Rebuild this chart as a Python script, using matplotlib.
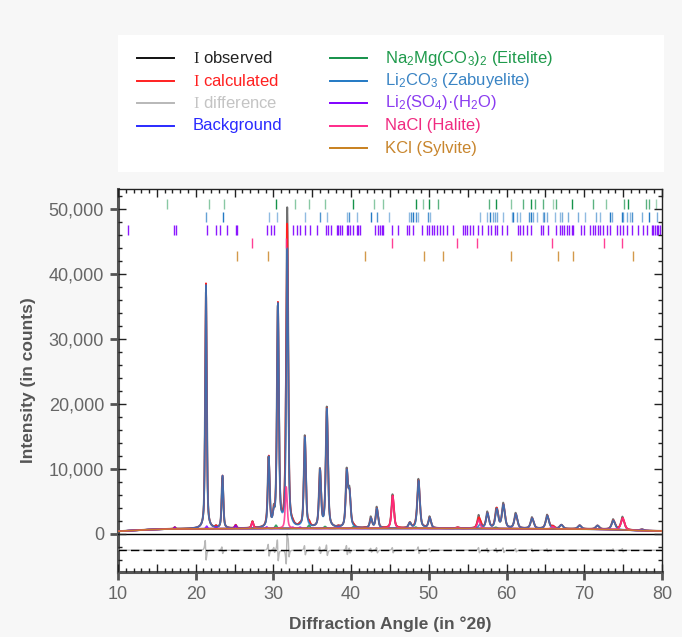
import numpy as np
import matplotlib
matplotlib.use('Agg')
import matplotlib.pyplot as plt
from matplotlib.ticker import MultipleLocator, FuncFormatter

plt.rcParams['font.family'] = ['Liberation Sans', 'DejaVu Sans']
plt.rcParams['mathtext.fontset'] = 'custom'
plt.rcParams['mathtext.rm'] = 'Liberation Sans'
plt.rcParams['mathtext.it'] = 'Liberation Sans:italic'
plt.rcParams['mathtext.bf'] = 'Liberation Sans:bold'
plt.rcParams['mathtext.sf'] = 'Liberation Sans'
plt.rcParams['mathtext.tt'] = 'Liberation Serif'

# ---------------- data ----------------
two_theta_min, two_theta_max = 10.0, 80.0

bg_x = [10, 13, 16, 20, 30, 40, 50, 60, 70, 74, 77, 80]
bg_y = [420, 620, 760, 800, 850, 860, 860, 830, 760, 680, 520, 460]

zab_pos = [21.32, 23.45, 29.40, 30.05, 30.58, 31.78, 34.05, 36.00, 36.88, 39.45, 39.80,
           42.56, 43.32, 47.55, 48.68, 50.12, 56.60, 57.55, 58.75, 59.60, 61.20, 63.30,
           65.25, 67.05, 69.40, 71.70, 73.75, 77.40]
zab_int = [37500, 8100, 10700, 1500, 34200, 42800, 13900, 8700, 18200, 8400, 5000,
           1500, 3000, 800, 7300, 1600, 600, 2300, 2900, 3600, 2200, 1600,
           2000, 600, 550, 550, 1400, 200]

nacl_pos = [27.30, 31.65, 45.35, 53.70, 56.40, 65.95, 74.95]
nacl_int = [1000, 6400, 5000, 150, 1300, 350, 1800]

eit_pos = [30.33, 34.58, 36.64, 40.29, 48.31, 58.61]
eit_int = [500, 500, 300, 250, 200, 200]

lso_pos = [17.30, 21.41, 22.61, 25.14, 29.13, 32.48, 33.42, 38.36]
lso_int = [250, 400, 250, 500, 250, 200, 200, 150]

kcl_pos = [29.26, 41.79, 49.43]
kcl_int = [80, 60, 60]

# misfit (observed - calculated) features
resid_pos = [21.28, 23.42, 29.38, 30.10, 30.56, 31.70, 31.95, 34.05, 36.00, 36.88, 39.45, 39.80,
             42.56, 43.32, 45.35, 48.68, 50.12, 56.45, 57.55, 58.70, 59.60, 61.20, 63.30, 65.25,
             73.75, 74.95]
resid_amp = [1500, 500, 900, 400, 1600, -2200, 1200, 700, 500, 800, 700, 400,
             300, 400, 400, 500, 250, 400, 300, 300, 350, 250, 200, 200,
             200, 250]
diff_offset = -2500

# reflection tick marks (2theta) and their shading
eit_ticks = [16.26, 21.71, 23.64, 30.33, 32.78, 34.58, 36.64, 40.29, 42.95, 44.15, 48.31, 49.30,
             50.03, 51.23, 57.75, 58.61, 60.54, 62.08, 63.11, 63.63, 64.66, 66.03, 66.37, 68.39,
             71.18, 72.81, 75.16, 75.59, 77.91, 78.38, 79.24]
eit_alpha = [0.5, 0.5, 0.5, 1.0, 0.5, 0.5, 0.5, 1.0, 0.5, 0.5, 1.0, 0.5,
             1.0, 0.7, 0.7, 1.0, 0.5, 0.7, 1.0, 0.7, 0.7, 0.4, 0.7, 1.0,
             0.7, 0.5, 0.7, 1.0, 0.7, 0.7, 0.4]
zab_ticks = [21.33, 23.47, 29.39, 30.42, 34.02, 36.00, 36.86, 39.43, 39.77, 40.72, 42.56, 43.29,
             44.86, 47.45, 47.67, 48.01, 48.31, 48.65, 49.94, 50.15, 56.59, 57.45, 57.88, 58.22,
             58.48, 58.73, 59.51, 60.66, 60.88, 61.31, 61.74, 62.94, 63.11, 63.45, 63.88, 64.66,
             64.83, 65.17, 66.24, 66.89, 67.10, 67.96, 69.24, 70.10, 71.52, 72.03, 73.32, 73.54,
             74.82, 75.04, 75.47, 75.89, 76.19, 77.48, 78.34, 79.33]
zab_alpha = [0.7, 1.0, 0.5, 0.5, 0.5, 0.8, 0.5, 0.5, 0.8, 0.5, 1.0, 0.8,
             0.5, 0.5, 0.8, 1.0, 0.8, 0.5, 0.8, 0.5, 0.5, 0.5, 1.0, 0.6,
             0.6, 0.6, 0.5, 0.5, 1.0, 0.6, 0.5, 0.8, 1.0, 0.6, 0.5, 0.5,
             0.8, 0.6, 0.5, 0.5, 0.6, 0.6, 0.6, 0.5, 0.6, 0.5, 1.0, 0.6,
             1.0, 0.6, 0.6, 0.5, 0.8, 0.6, 1.0, 0.6]
lso_ticks = [11.24, 17.21, 17.46, 21.41, 22.61, 23.13, 24.07, 25.14, 25.36, 29.13, 29.65, 30.12,
             32.48, 32.99, 33.42, 34.07, 34.71, 35.57, 36.77, 37.07, 37.41, 38.14, 38.36, 38.57,
             38.79, 39.43, 39.64, 39.86, 40.20, 40.72, 40.93, 41.15, 43.08, 43.42, 43.72, 43.93,
             44.15, 45.22, 46.08, 47.15, 47.50, 48.01, 49.17, 49.73, 50.03, 50.37, 50.71, 51.01,
             51.44, 51.87, 52.30, 53.16, 54.36, 54.66, 54.96, 55.30, 55.73, 56.38, 56.80, 57.66,
             58.01, 58.52, 58.82, 59.38, 60.02, 61.48, 61.74, 62.08, 62.60, 63.11, 64.40, 64.74,
             65.38, 66.33, 66.89, 67.10, 67.40, 67.74, 68.09, 68.39, 68.60, 69.59, 69.97, 70.75,
             71.09, 71.39, 71.82, 72.03, 72.46, 72.89, 73.32, 74.18, 74.61, 75.04, 75.47, 76.20,
             76.97, 77.61, 78.04, 78.68, 78.90, 79.11, 79.33, 79.54, 79.76]
nacl_ticks = [27.29, 31.65, 45.22, 53.67, 56.16, 65.90, 72.59, 74.82]
kcl_ticks = [25.32, 29.26, 41.79, 49.43, 51.87, 60.54, 66.67, 68.60, 76.32]

tick_rows = [50800, 48800, 46800, 44800, 42800]

x_major_ticks = [10, 20, 30, 40, 50, 60, 70, 80]
y_major_ticks = [0, 10000, 20000, 30000, 40000, 50000]

# ---------------- styles ----------------
C_OBS = '#111111'
C_CALC = '#ff2020'
C_DIFF = '#b8b8b8'
C_BG = '#2a2aff'
C_EIT = '#15924a'
C_ZAB = '#2379c4'
C_LSO = '#8000ff'
C_NACL = '#ff2a8a'
C_KCL = '#c8801e'

x = np.arange(two_theta_min, two_theta_max + 0.005, 0.01)


def profile(xx, pos, amp):
    out = np.zeros_like(xx)
    for p, h in zip(pos, amp):
        fwhm = 0.12 + 0.0055 * p
        u = (xx - p) / (fwhm / 2)
        out += h * (0.55 / (1 + u ** 2) + 0.45 * np.exp(-np.log(2) * u ** 2))
    return out


def misfit(xx, pos, amp):
    out = np.zeros_like(xx)
    for p, a in zip(pos, amp):
        u = (xx - p) / 0.1
        out += a * (-2 * u / (1 + u ** 2) ** 2) / 0.6495
    return out


bg = np.interp(x, bg_x, bg_y)
eit = bg + profile(x, eit_pos, eit_int)
zab = bg + profile(x, zab_pos, zab_int)
lso = bg + profile(x, lso_pos, lso_int)
nacl = bg + profile(x, nacl_pos, nacl_int)
kcl = bg + profile(x, kcl_pos, kcl_int)
calc = bg + (eit - bg) + (zab - bg) + (lso - bg) + (nacl - bg) + (kcl - bg)
obs = calc + misfit(x, resid_pos, resid_amp)
diff = obs - calc + diff_offset

W, H = 682, 637
fig = plt.figure(figsize=(W / 100, H / 100), dpi=100, facecolor='#f7f7f7')

ax_rect = [118 / W, (H - 572) / H, (662 - 118) / W, (572 - 189) / H]
ax = fig.add_axes(ax_rect, facecolor='white')
ax.set_xlim(two_theta_min, two_theta_max)
ax.set_ylim(-5850, 53100)

ax.plot(x, obs, color=C_OBS, lw=1.4, alpha=0.6, zorder=2)
ax.plot(x, calc, color=C_CALC, lw=1.2, zorder=3)
ax.plot(x, diff, color=C_DIFF, lw=1.0, zorder=3)
ax.plot(x, bg, color=C_BG, lw=1.2, zorder=3)
for yy, c in [(eit, C_EIT), (zab, C_ZAB), (lso, C_LSO), (nacl, C_NACL), (kcl, C_KCL)]:
    ax.plot(x, yy, color=c, lw=1.2, alpha=0.85, zorder=4)

ax.axhline(0, color='black', lw=1.0, zorder=5)
ax.axhline(diff_offset, color='black', lw=1.0, ls=(0, (6, 3)), zorder=5)

half = 750
ax.vlines(eit_ticks, tick_rows[0] - half, tick_rows[0] + half, colors=C_EIT, lw=1.0, zorder=6)
ax.collections[-1].set_alpha(eit_alpha)
ax.vlines(zab_ticks, tick_rows[1] - half, tick_rows[1] + half, colors=C_ZAB, lw=1.0, zorder=6)
ax.collections[-1].set_alpha(zab_alpha)
ax.vlines(lso_ticks, tick_rows[2] - half, tick_rows[2] + half, colors=C_LSO, lw=1.0, alpha=0.9, zorder=6)
ax.vlines(nacl_ticks, tick_rows[3] - half, tick_rows[3] + half, colors=C_NACL, lw=1.0, alpha=0.9, zorder=6)
ax.vlines(kcl_ticks, tick_rows[4] - half, tick_rows[4] + half, colors=C_KCL, lw=1.0, alpha=0.8, zorder=6)

# main axis: outward major ticks with labels
ax.set_xticks(x_major_ticks)
ax.set_yticks(y_major_ticks)
ax.yaxis.set_major_formatter(FuncFormatter(lambda v, p: f'{int(v):,}'))
ax.tick_params(axis='both', which='major', direction='out', length=6, width=2.0, color='#555555',
               labelsize=13, labelcolor='#666666', top=False, right=False, pad=4)
for side in ['left', 'bottom']:
    ax.spines[side].set_color('#555555')
    ax.spines[side].set_linewidth(2.2)
for side in ['top', 'right']:
    ax.spines[side].set_color('#222222')
    ax.spines[side].set_linewidth(1.0)
ax.set_xlabel('Diffraction Angle (in °2θ)', fontsize=12.5, fontweight='bold', color='#555555', labelpad=10)
ax.set_ylabel('Intensity (in counts)', fontsize=12.5, fontweight='bold', color='#555555', labelpad=9)

# overlay axis: inward minor/major ticks on all sides
ax2 = fig.add_axes(ax_rect, facecolor='none')
ax2.set_xlim(two_theta_min, two_theta_max)
ax2.set_ylim(-5850, 53100)
ax2.xaxis.set_major_locator(MultipleLocator(5))
ax2.xaxis.set_minor_locator(MultipleLocator(1))
ax2.yaxis.set_major_locator(MultipleLocator(10000))
ax2.yaxis.set_minor_locator(MultipleLocator(2000))
ax2.tick_params(axis='both', which='both', direction='in', top=True, right=True, bottom=True, left=True,
                labelbottom=False, labelleft=False, color='#222222', width=1.0)
ax2.tick_params(axis='both', which='major', length=5.5)
ax2.tick_params(axis='both', which='minor', length=3)
for s in ax2.spines.values():
    s.set_visible(False)

# legend panel
lax = fig.add_axes([118 / W, (H - 172) / H, (664 - 118) / W, (172 - 35) / H], facecolor='white')
lax.set_xlim(0, 546)
lax.set_ylim(137, 0)
lax.set_xticks([])
lax.set_yticks([])
for s in lax.spines.values():
    s.set_visible(False)

col1 = [(r'$\mathtt{I}$ observed', C_OBS, '#222222'),
        (r'$\mathtt{I}$ calculated', C_CALC, C_CALC),
        (r'$\mathtt{I}$ difference', C_DIFF, '#c4c4c4'),
        ('Background', C_BG, C_BG)]
col2 = [(r'Na$_2$Mg(CO$_3$)$_2$ (Eitelite)', C_EIT, '#1f9a4c'),
        (r'Li$_2$CO$_3$ (Zabuyelite)', C_ZAB, '#3a84c4'),
        (r'Li$_2$(SO$_4$)·(H$_2$O)', C_LSO, '#8a3cf0'),
        ('NaCl (Halite)', C_NACL, '#f02a80'),
        ('KCl (Sylvite)', C_KCL, '#c8862e')]
row_y0, row_dy = 23, 22.5
for (x0, x1, xt), col in [((19, 56, 75), col1), ((212, 249, 267), col2)]:
    for i, (lab, lc, tc) in enumerate(col):
        yy = row_y0 + i * row_dy
        lax.plot([x0, x1], [yy, yy], color=lc, lw=1.4)
        lax.text(xt, yy, lab, color=tc, fontsize=12, va='center', ha='left')

fig.savefig('out.png', dpi=100, facecolor=fig.get_facecolor())
